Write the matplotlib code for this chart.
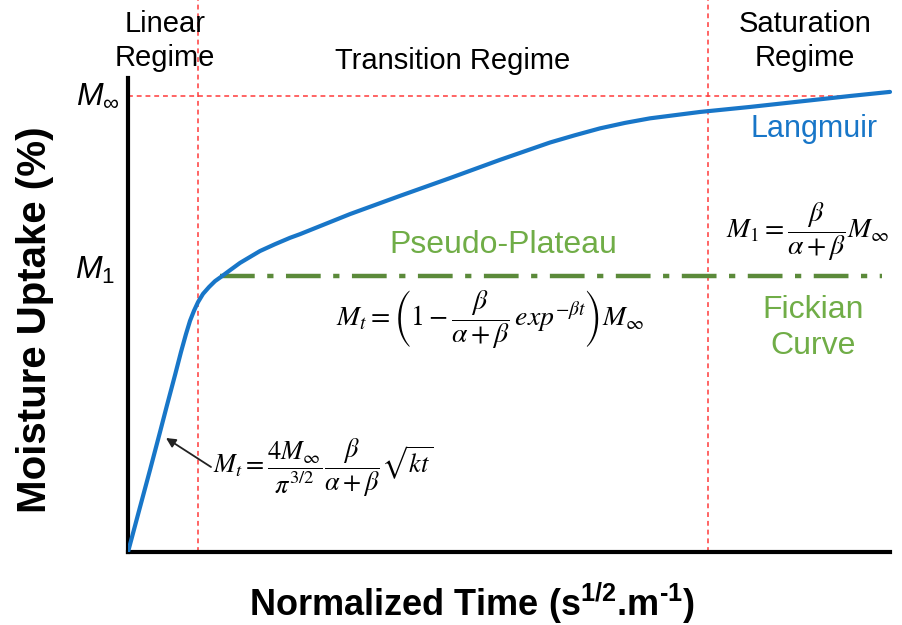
import matplotlib
matplotlib.use("Agg")
import matplotlib.pyplot as plt

plt.rcParams['font.family'] = ['Liberation Sans', 'DejaVu Sans']
plt.rcParams['mathtext.fontset'] = 'custom'
plt.rcParams['mathtext.rm'] = 'Liberation Sans'
plt.rcParams['mathtext.it'] = 'Liberation Sans:italic'
plt.rcParams['mathtext.bf'] = 'Liberation Sans:bold'
plt.rcParams['lines.scale_dashes'] = False

# ---- data (normalized time, normalized uptake with M_inf = 1) ----
time_vals = [0.0, 0.144, 0.289, 0.420, 0.512, 0.617, 0.696, 0.761, 0.814, 0.866,
             0.919, 0.984, 1.063, 1.142, 1.234, 1.339, 1.470, 1.601, 1.732, 1.929,
             2.126, 2.257, 2.913, 3.570, 4.226, 4.882, 5.210, 5.538, 5.866,
             6.194, 6.522, 6.850, 7.178, 7.507, 8.163, 8.819, 9.475, 10.0]
langmuir_vals = [0.0, 0.090, 0.180, 0.263, 0.322, 0.388, 0.439, 0.478, 0.507, 0.529,
                 0.548, 0.566, 0.581, 0.594, 0.605, 0.618, 0.634, 0.647, 0.660, 0.675,
                 0.689, 0.697, 0.741, 0.781, 0.820, 0.860, 0.879, 0.898, 0.914,
                 0.929, 0.941, 0.951, 0.958, 0.965, 0.976, 0.988, 1.000, 1.009]
M_inf = 1.0
M_1 = 0.605
plateau_start, plateau_end = 1.207, 9.895
regime_bounds = [0.919, 7.61]
m_inf_line_end = 9.34
regime_labels = ["Linear\nRegime", "Transition Regime", "Saturation\nRegime"]

W, H = 903, 625
fig = plt.figure(figsize=(W / 100, H / 100), dpi=100)
# axes: x=0 at px 128, y=0 at px 552
x0_px, y0_px = 128, 552
px_per_x = 76.2
px_per_y = 456.0
ax = fig.add_axes([x0_px / W, (H - y0_px) / H, (W - x0_px) / W, y0_px / H])
ax.set_xlim(0, (W - x0_px) / px_per_x)
ax.set_ylim(0, y0_px / px_per_y)
ax.patch.set_alpha(0)

for s in ['top', 'right']:
    ax.spines[s].set_visible(False)
ax.spines['left'].set_linewidth(3)
ax.spines['bottom'].set_linewidth(3)
ax.spines['left'].set_bounds(0, (y0_px - 78) / px_per_y)
ax.spines['bottom'].set_bounds(0, 10.0)
ax.set_xticks([])
ax.set_yticks([])

red = '#ff3b3b'
for xb in regime_bounds:
    ax.plot([xb, xb], [0, y0_px / px_per_y], color=red, lw=1.1,
            dashes=(3.5, 2.8), clip_on=False, zorder=1)
ax.plot([0, m_inf_line_end], [M_inf, M_inf], color=red, lw=1.1,
        dashes=(3.5, 2.8), zorder=1)

# green plateau
ax.plot([plateau_start, plateau_end], [M_1, M_1], color='#5b8a3a', lw=3.2,
        dashes=(25, 9, 4.5, 9), zorder=2, solid_capstyle='butt',
        dash_capstyle='butt')

# Langmuir curve
ax.plot(time_vals, langmuir_vals, color='#1876c8', lw=3.0, zorder=3,
        solid_joinstyle='round', solid_capstyle='round')


def X(px):
    return (px - x0_px) / px_per_x


def Y(py):
    return (y0_px - py) / px_per_y


# regime labels
ax.text(X(165), Y(41), regime_labels[0], ha='center', va='center',
        fontsize=21, linespacing=1.25, clip_on=False)
ax.text(X(453), Y(61), regime_labels[1], ha='center', va='center',
        fontsize=21, clip_on=False)
ax.text(X(805), Y(41), regime_labels[2], ha='center', va='center',
        fontsize=21, linespacing=1.25, clip_on=False)

ax.text(X(814), Y(129), "Langmuir", color='#1876c8', ha='center',
        va='center', fontsize=22)
ax.text(X(503), Y(245), "Pseudo-Plateau", color='#70ad47', ha='center',
        va='center', fontsize=23)
ax.text(X(813), Y(328), "Fickian\nCurve", color='#70ad47', ha='center',
        va='center', fontsize=23, linespacing=1.25)

# y tick style labels
ax.text(X(120), M_inf, r'$M_{\infty}$', ha='right', va='center',
        fontsize=23, math_fontfamily='custom', clip_on=False)
ax.text(X(115), Y(270), r'$M_{1}$', ha='right', va='center',
        fontsize=23, math_fontfamily='custom', clip_on=False)

# equations
ax.text(X(213), Y(468),
        r'$M_t = \dfrac{4M_\infty}{\pi^{3/2}}\dfrac{\beta}{\alpha+\beta}\sqrt{kt}$',
        ha='left', va='center', fontsize=19, math_fontfamily='stix')
ax.text(X(490), Y(320),
        r'$M_t = \left(1 - \dfrac{\beta}{\alpha+\beta}\,exp^{-\beta t}\right)M_\infty$',
        ha='center', va='center', fontsize=20, math_fontfamily='stix')
ax.text(X(808), Y(232),
        r'$M_1 = \dfrac{\beta}{\alpha+\beta}M_\infty$',
        ha='center', va='center', fontsize=20, math_fontfamily='stix')

ax.annotate('', xy=(X(166), Y(438)), xytext=(X(211), Y(467)),
            arrowprops=dict(arrowstyle='-|>', color='#222222', lw=1.3,
                            mutation_scale=14, shrinkA=0, shrinkB=0))

# axis labels
fig.text(472 / W, 1 - 603 / H,
         'Normalized Time (s$^{\\mathbf{1/2}}$.m$^{\\mathbf{\u20101}}$)',
         ha='center', va='center', fontsize=26, fontweight='bold')
fig.text(35 / W, 1 - 320 / H, 'Moisture Uptake (%)', rotation=90,
         ha='center', va='center', fontsize=29, fontweight='bold')

fig.savefig('out.png', dpi=100)
